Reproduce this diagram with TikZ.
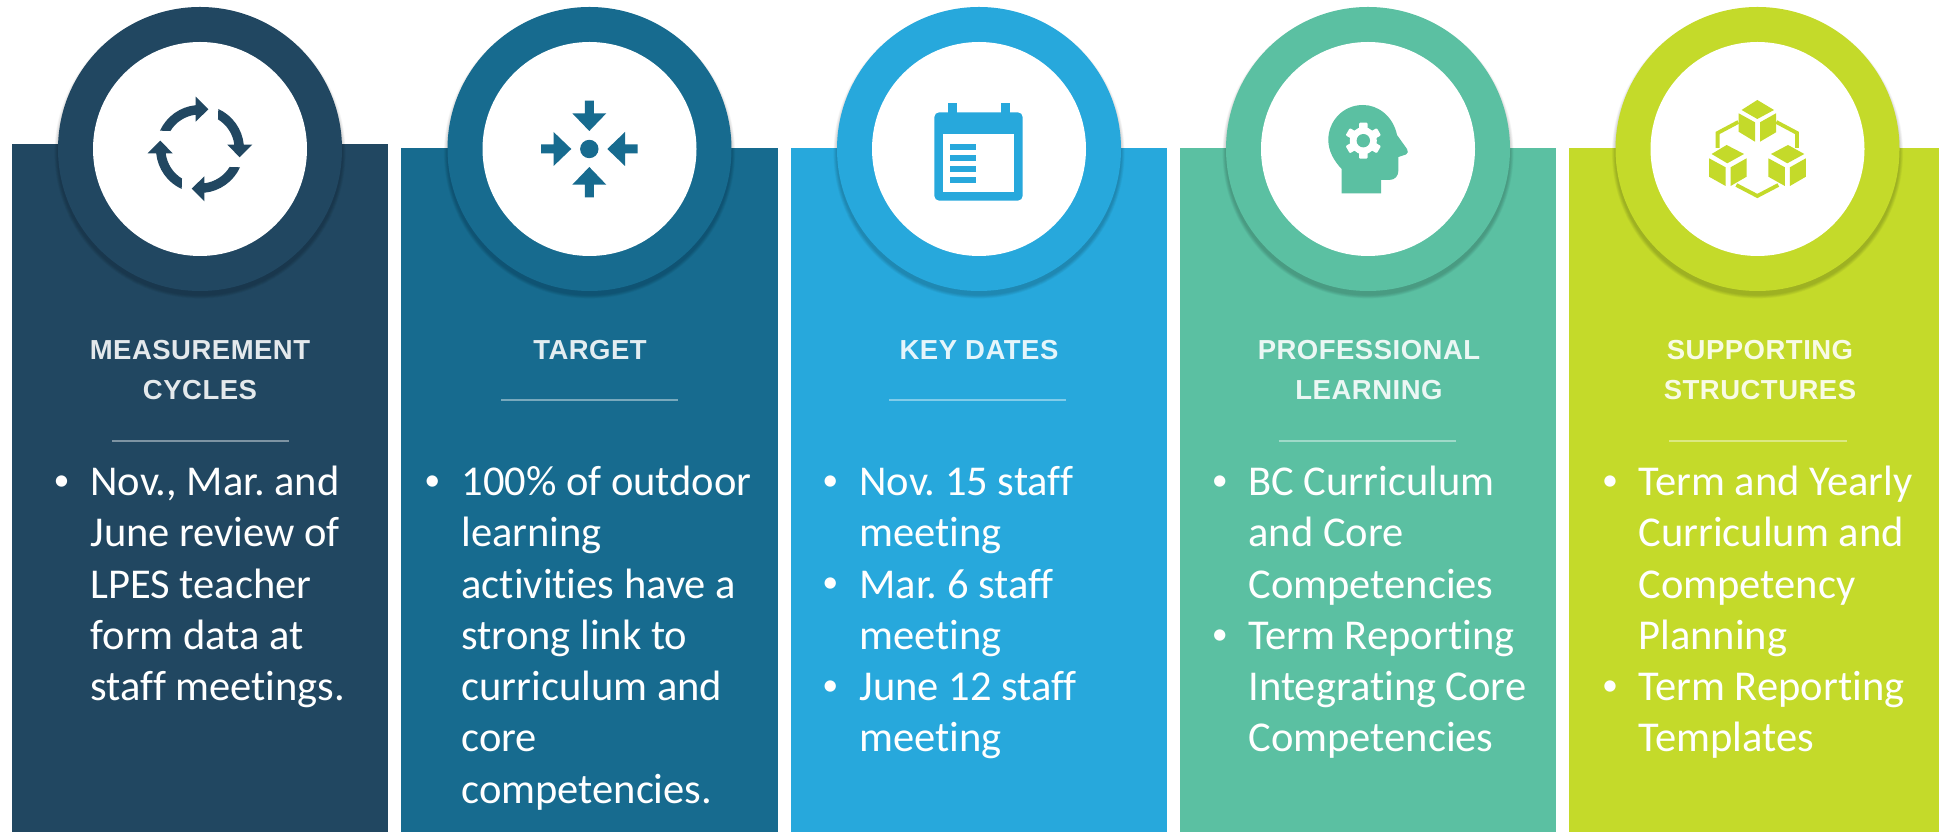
\documentclass[tikz,border=0pt]{standalone}
\usepackage{fontspec}
\setmainfont{Carlito}[Ligatures=NoCommon]
\newfontfamily\headfont{Liberation Sans}[BoldFont={* Bold},LetterSpace=1.8]
\newcommand\bodyfont{\frenchspacing\fontsize{42.5}{51.3}\selectfont}
\newcommand\bulletfont{\fontsize{32}{32}\selectfont}
\newcommand\hdfont{\headfont\bfseries\fontsize{27.5}{39.5}\selectfont}
\newcommand\firstl{\rule{0pt}{40pt}}
\definecolor{cA}{HTML}{214761}
\definecolor{cB}{HTML}{176B8F}
\definecolor{cC}{HTML}{27A8DC}
\definecolor{cD}{HTML}{5BC0A2}
\definecolor{cE}{HTML}{C4DA2A}
\tikzset{
  x=1pt,y=1pt,
  bodytext/.style={anchor=north west,inner sep=0pt,outer sep=0pt,align=left,text=white,font=\bodyfont},
  bullettext/.style={anchor=north west,inner sep=0pt,outer sep=0pt,text=white,font=\bulletfont},
  headtext/.style={anchor=base,inner sep=0pt,outer sep=0pt,align=center,font=\hdfont},
  rulesep/.style={line width=2.3pt,white,opacity=0.42},
}
\newcommand\ringat[2]{%
  \foreach \i in {1,...,8}{\fill[black,opacity=0.025] (#1,{683-4}) circle[radius={142+\i*0.45}];}
  \fill[#2] (#1,683) circle[radius=142];
  \fill[white] (#1,683) circle[radius=107];
}
\begin{document}
\begin{tikzpicture}
\useasboundingbox (0,0) rectangle (1939,832);
\fill[white] (0,0) rectangle (1939,832);
% panels
\fill[cA] (11.5,0) rectangle (388.3,688);
\fill[cB] (401,0) rectangle (777.7,684);
\fill[cC] (790.8,0) rectangle (1166.7,684);
\fill[cD] (1180,0) rectangle (1556,684);
\fill[cE] (1569,0) rectangle (1939,684);
% rings
\ringat{200}{cA}
\ringat{589.5}{cB}
\ringat{979}{cC}
\ringat{1368}{cD}
\ringat{1757.5}{cE}
% cycle icon
\begin{scope}[shift={(200,683)}]
\foreach \a in {0,-90,-180,-270}{
  \fill[cA,rotate=\a] (155.4:44) arc[start angle=155.4,end angle=95.6,radius=44]
    -- (-4.3,52.3) -- (8.3,39.7) -- (-4.3,27.3) -- (-4.3,34.3)
    arc[start angle=97,end angle=148.6,radius=34.6] -- cycle;
}
\end{scope}
% target icon
\begin{scope}[shift={(589.3,683)}]
\fill[cB] (0,0) circle[radius=9.2];
\foreach \a in {0,90,180,270}{
  \fill[cB,rotate=\a] (-4.5,48.3) -- (4.5,48.3) -- (4.5,35.7) -- (17,35.7) -- (0,18) -- (-17,35.7) -- (-4.5,35.7) -- cycle;
}
\end{scope}
% calendar icon
\begin{scope}[shift={(979,683)}]
\fill[cC,rounded corners=5pt] (-44.7,-51.7) rectangle (43.7,36.7);
\fill[cC] (-31.3,30) rectangle (-22.3,45.7);
\fill[cC] (21.7,30) rectangle (31,45.7);
\fill[white] (-35.7,-43) rectangle (35,14.7);
\foreach \yy in {4.7,-6,-17,-28.3}{
  \fill[cC] (-29.3,\yy) rectangle (-3,\yy-5.7);
}
\end{scope}
% head icon
\begin{scope}[shift={(1368,683)}]
\fill[cD] (-26.3,-44.3) -- (13,-44.3) -- (13,-31) -- (21,-31)
  .. controls (27,-31) and (30.3,-27) .. (30.3,-22) -- (30.3,-8) -- (38,-5.5)
  .. controls (40,-4.5) and (40.5,-2) .. (39,0) -- (29,14)
  .. controls (25,33) and (10,44) .. (-5,44)
  .. controls (-25,44) and (-39.7,28) .. (-39.7,9)
  .. controls (-39.7,-2) and (-34,-12) .. (-26.3,-20) -- cycle;
\begin{scope}[shift={(-4.7,8.3)}]
\fill[white] (0,0) circle[radius=13.5];
\foreach \a in {0,60,120}{
  \fill[white,rotate=\a,rounded corners=1pt] (-4.2,-18) rectangle (4.2,18);
}
\fill[cD] (0,0) circle[radius=6.7];
\end{scope}
\end{scope}
% cubes icon
\begin{scope}[shift={(1757.3,683)}]
\fill[cE] (0,49) -- (16.7,39) -- (0,30) -- (-15.7,39) -- cycle;
\fill[cE] (-18.7,35.7) -- (-2.3,26.7) -- (-2.3,7.3) -- (-18.7,17.3) -- cycle;
\fill[cE] (2.7,26.7) -- (18.7,35.7) -- (18.7,16.7) -- (2.7,7.3) -- cycle;
\foreach \s in {0,59.3}{
  \fill[cE] (-48.3+\s,-9.3) -- (-31.7+\s,-18.3) -- (-31.7+\s,-37) -- (-48.3+\s,-27.7) -- cycle;
  \fill[cE] (-26.7+\s,-18.3) -- (-10.7+\s,-9.3) -- (-10.7+\s,-27.7) -- (-26.7+\s,-37) -- cycle;
}
\fill[cE] (-30.7,4) -- (-13.3,-5) -- (-30,-14.3) -- (-45.7,-5) -- cycle;
\fill[cE] (30.7,4) -- (47,-5) -- (30,-14.3) -- (13.7,-5) -- cycle;
\draw[cE,line width=3.8pt] (-19,27) -- (-39.7,16) -- (-39.7,1);
\draw[cE,line width=3.8pt] (19,27) -- (39.7,16) -- (39.7,1);
\draw[cE,line width=3.8pt] (-21,-36) -- (0,-47) -- (21,-36);
\end{scope}
% headers
\node[headtext,text=white!88!cA] (h1) at (200,472) {MEASUREMENT};
\node[headtext,text=white!88!cA] (h1b) at (200,432) {CYCLES};
\node[headtext,text=white!88!cB] (h2) at (590,472) {TARGET};
\node[headtext,text=white!88!cC] (h3) at (979,472) {KEY DATES};
\node[headtext,text=white!88!cD] (h4) at (1369,472) {PROFESSIONAL};
\node[headtext,text=white!88!cD] (h4b) at (1369,432) {LEARNING};
\node[headtext,text=white!88!cE] (h5) at (1760,472) {SUPPORTING};
\node[headtext,text=white!88!cE] (h5b) at (1760,432) {STRUCTURES};
% rules
\draw[rulesep] (112,391) -- (289,391);
\draw[rulesep] (501,432) -- (678,432);
\draw[rulesep] (889,432) -- (1066,432);
\draw[rulesep] (1278.7,391) -- (1455.7,391);
\draw[rulesep] (1669,391) -- (1846.5,391);
% bullets and body text
\node[bullettext] (b1) at (53.6,381.7) {\firstl •};
\node[bodytext] (t1) at (90.5,376.5) {\firstl Nov., Mar. and\\June review of\\LPES teacher\\form data at\\staff meetings.};
\node[bullettext] (b2) at (424.4,381.7) {\firstl •};
\node[bodytext] (t2) at (461.5,376.5) {\firstl 100\% of outdoor\\learning\\activities have a\\strong link to\\curriculum and\\core\\competencies.};
\node[bullettext] (b3a) at (822.4,381.7) {\firstl •};
\node[bodytext] (t3a) at (859.5,376.5) {\firstl Nov. 15 staff\\meeting};
\node[bullettext] (b3b) at (822.4,279.1) {\firstl •};
\node[bodytext] (t3b) at (859.5,273.9) {\firstl Mar. 6 staff\\meeting};
\node[bullettext] (b3c) at (822.4,176.5) {\firstl •};
\node[bodytext] (t3c) at (859.5,171.3) {\firstl June 12 staff\\meeting};
\node[bullettext] (b4a) at (1211.8,381.7) {\firstl •};
\node[bodytext] (t4a) at (1248.5,376.5) {\firstl BC Curriculum\\and Core\\Competencies};
\node[bullettext] (b4b) at (1211.8,227.8) {\firstl •};
\node[bodytext] (t4b) at (1248.5,222.6) {\firstl Term Reporting\\Integrating Core\\Competencies};
\node[bullettext] (b5a) at (1602,381.7) {\firstl •};
\node[bodytext] (t5a) at (1638.5,376.5) {\firstl Term and Yearly\\Curriculum and\\Competency\\Planning};
\node[bullettext] (b5b) at (1602,176.5) {\firstl •};
\node[bodytext] (t5b) at (1638.5,171.3) {\firstl Term Reporting\\Templates};
\end{tikzpicture}
\end{document}
